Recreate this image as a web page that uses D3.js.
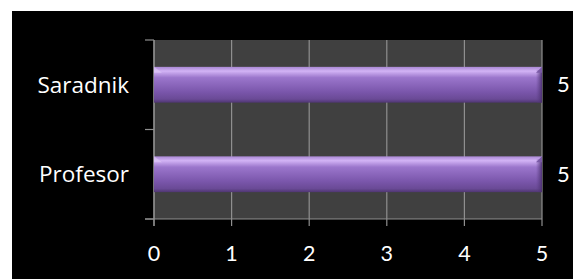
<!DOCTYPE html>
<html><head><meta charset="utf-8">
<script src="https://cdn.jsdelivr.net/npm/d3@7"></script>
<style>html,body{margin:0;padding:0;background:#fff;}svg{display:block;}</style>
</head><body>
<script>
const categories = ["Saradnik", "Profesor"];
const values = [5, 5];
const xTicks = [0, 1, 2, 3, 4, 5];

const W = 573, H = 279;
const svg = d3.select("body").append("svg").attr("width", W).attr("height", H);
const font = "Lato, 'Open Sans', sans-serif";
const labelFont = "'Open Sans', Lato, sans-serif";

svg.append("rect").attr("x", 12).attr("y", 11).attr("width", W - 12).attr("height", H - 11).attr("fill", "#000");

const m = {left: 154, right: 542, top: 40, bottom: 219};
const x = d3.scaleLinear().domain([0, 5]).range([m.left, m.right]);
const y = d3.scaleBand().domain(categories).range([m.top, m.bottom]).paddingInner(0.6).paddingOuter(0.3);

const defs = svg.append("defs");
const g1 = defs.append("linearGradient").attr("id", "barg").attr("x1", 0).attr("y1", 0).attr("x2", 0).attr("y2", 1);
[[0, "#a987d4"], [0.12, "#d2b3f5"], [0.3, "#9b76cc"], [0.7, "#7a56ab"], [0.9, "#6a4a96"], [1, "#4f3672"]]
  .forEach(([o, c]) => g1.append("stop").attr("offset", o).attr("stop-color", c));
const g2 = defs.append("linearGradient").attr("id", "endg").attr("x1", 0).attr("y1", 0).attr("x2", 1).attr("y2", 0);
[[0, "#5a3d82", 0], [1, "#4a2f6e", 0.9]].forEach(([o, c, a]) => g2.append("stop").attr("offset", o).attr("stop-color", c).attr("stop-opacity", a));

svg.append("rect").attr("x", m.left).attr("y", m.top).attr("width", m.right - m.left).attr("height", m.bottom - m.top).attr("fill", "#404040");

svg.append("g").selectAll("line").data(xTicks).join("line")
  .attr("x1", d => x(d)).attr("x2", d => x(d)).attr("y1", m.top).attr("y2", m.bottom + 7)
  .attr("stroke", "#8f8f8f").attr("stroke-width", 1.2);

svg.append("line").attr("x1", m.left).attr("x2", m.left).attr("y1", m.top).attr("y2", m.bottom + 7).attr("stroke", "#8f8f8f").attr("stroke-width", 1.2);
svg.append("line").attr("x1", m.left - 9).attr("x2", m.right).attr("y1", m.bottom).attr("y2", m.bottom).attr("stroke", "#8f8f8f").attr("stroke-width", 1.2);
const yTickPos = [m.top, (m.top + m.bottom) / 2, m.bottom];
svg.append("g").selectAll("line").data(yTickPos).join("line")
  .attr("x1", m.left - 9).attr("x2", m.left).attr("y1", d => d).attr("y2", d => d)
  .attr("stroke", "#8f8f8f").attr("stroke-width", 1.2);

const bars = svg.append("g").selectAll("g").data(categories).join("g");
bars.append("rect").attr("x", x(0)).attr("y", d => y(d)).attr("width", (d, i) => x(values[i]) - x(0)).attr("height", y.bandwidth()).attr("fill", "url(#barg)");
bars.append("rect").attr("x", (d, i) => x(values[i]) - 6).attr("y", d => y(d) + 3).attr("width", 6).attr("height", y.bandwidth() - 3).attr("fill", "url(#endg)");
bars.append("path").attr("d", d => `M${x(0)},${y(d)} L${x(0) + 8},${y(d) + 6} L${x(0)},${y(d) + 6} Z`).attr("fill", "#e0ccf7").attr("opacity", 0.6);
bars.append("path").attr("d", (d, i) => `M${x(values[i])},${y(d)} L${x(values[i]) - 6},${y(d) + 6} L${x(values[i])},${y(d) + 6} Z`).attr("fill", "#7a5aa6");

svg.append("g").selectAll("text").data(categories).join("text")
  .attr("x", 129).attr("y", d => y(d) + y.bandwidth() / 2).attr("dy", "0.35em")
  .attr("text-anchor", "end").attr("fill", "#fff").attr("font-family", labelFont).attr("font-size", 22.5)
  .text(d => d);

svg.append("g").selectAll("text").data(categories).join("text")
  .attr("x", (d, i) => x(values[i]) + 15).attr("y", d => y(d) + y.bandwidth() / 2).attr("dy", "0.35em")
  .attr("fill", "#fff").attr("font-family", font).attr("font-size", 22).text((d, i) => values[i]);

svg.append("g").selectAll("text").data(xTicks).join("text")
  .attr("x", d => x(d)).attr("y", 261).attr("text-anchor", "middle")
  .attr("fill", "#fff").attr("font-family", font).attr("font-size", 21.5).text(d => d);
</script>
</body></html>
